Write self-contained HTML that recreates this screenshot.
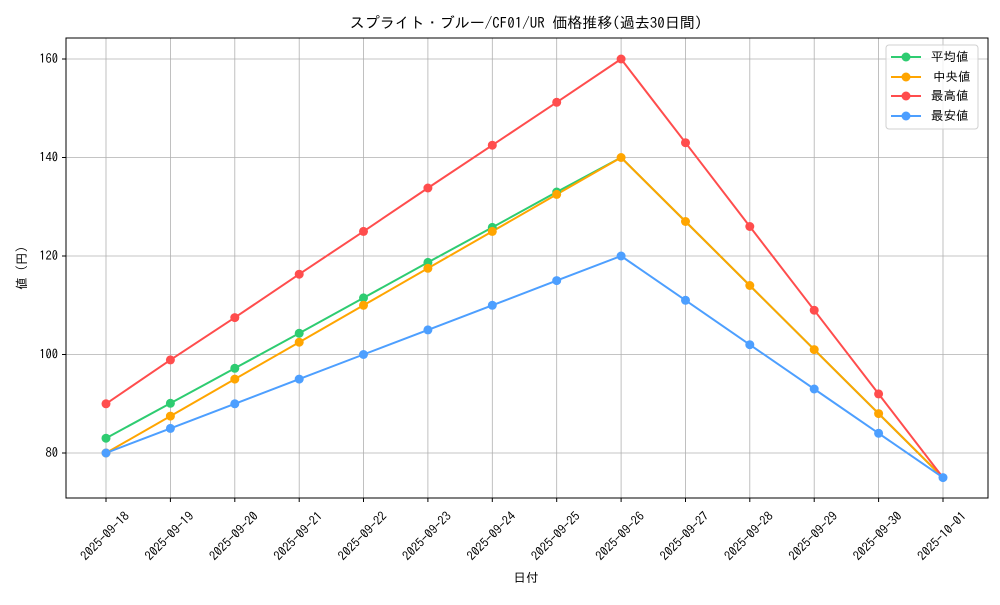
<!DOCTYPE html>
<html><head><meta charset="utf-8"><style>
body{margin:0;background:#fff}
svg text{font-family:"IPAGothic","Noto Sans CJK JP",sans-serif;fill:#000}
</style></head><body>
<svg width="1000" height="600" xmlns="http://www.w3.org/2000/svg">
<rect width="1000" height="600" fill="#fff"/>
<g stroke="#b0b0b0" stroke-width="0.8">
<line x1="106" y1="38" x2="106" y2="498"/><line x1="170.4" y1="38" x2="170.4" y2="498"/><line x1="234.8" y1="38" x2="234.8" y2="498"/><line x1="299.2" y1="38" x2="299.2" y2="498"/><line x1="363.5" y1="38" x2="363.5" y2="498"/><line x1="427.9" y1="38" x2="427.9" y2="498"/><line x1="492.3" y1="38" x2="492.3" y2="498"/><line x1="556.7" y1="38" x2="556.7" y2="498"/><line x1="621.1" y1="38" x2="621.1" y2="498"/><line x1="685.5" y1="38" x2="685.5" y2="498"/><line x1="749.8" y1="38" x2="749.8" y2="498"/><line x1="814.2" y1="38" x2="814.2" y2="498"/><line x1="878.6" y1="38" x2="878.6" y2="498"/><line x1="943" y1="38" x2="943" y2="498"/>
<line x1="66" y1="453" x2="988" y2="453"/><line x1="66" y1="354.5" x2="988" y2="354.5"/><line x1="66" y1="256" x2="988" y2="256"/><line x1="66" y1="157.5" x2="988" y2="157.5"/><line x1="66" y1="59" x2="988" y2="59"/>
</g>
<g fill="none" stroke-width="2">
<polyline stroke="#2ecc71" points="106,438.2 170.4,403.3 234.8,368.3 299.2,333.3 363.5,297.9 427.9,262.4 492.3,227.4 556.7,192 621.1,157.5 685.5,221.5 749.8,285.5 814.2,349.6 878.6,413.6 943,477.6"/>
<polyline stroke="#ffa500" points="106,453 170.4,416.1 234.8,379.1 299.2,342.2 363.5,305.3 427.9,268.3 492.3,231.4 556.7,194.4 621.1,157.5 685.5,221.5 749.8,285.5 814.2,349.6 878.6,413.6 943,477.6"/>
<polyline stroke="#ff4d4d" points="106,403.8 170.4,359.9 234.8,317.6 299.2,274.2 363.5,231.4 427.9,188 492.3,145.2 556.7,102.3 621.1,59 685.5,142.7 749.8,226.5 814.2,310.2 878.6,393.9 943,477.6"/>
<polyline stroke="#4d9fff" points="106,453 170.4,428.4 234.8,403.8 299.2,379.1 363.5,354.5 427.9,329.9 492.3,305.3 556.7,280.6 621.1,256 685.5,300.3 749.8,344.7 814.2,389 878.6,433.3 943,477.6"/>
</g>
<g fill="#2ecc71"><circle cx="106" cy="438.2" r="4.5"/><circle cx="170.4" cy="403.3" r="4.5"/><circle cx="234.8" cy="368.3" r="4.5"/><circle cx="299.2" cy="333.3" r="4.5"/><circle cx="363.5" cy="297.9" r="4.5"/><circle cx="427.9" cy="262.4" r="4.5"/><circle cx="492.3" cy="227.4" r="4.5"/><circle cx="556.7" cy="192" r="4.5"/></g>
<g fill="#ffa500"><circle cx="106" cy="453" r="4.5"/><circle cx="170.4" cy="416.1" r="4.5"/><circle cx="234.8" cy="379.1" r="4.5"/><circle cx="299.2" cy="342.2" r="4.5"/><circle cx="363.5" cy="305.3" r="4.5"/><circle cx="427.9" cy="268.3" r="4.5"/><circle cx="492.3" cy="231.4" r="4.5"/><circle cx="556.7" cy="194.4" r="4.5"/><circle cx="621.1" cy="157.5" r="4.5"/><circle cx="685.5" cy="221.5" r="4.5"/><circle cx="749.8" cy="285.5" r="4.5"/><circle cx="814.2" cy="349.6" r="4.5"/><circle cx="878.6" cy="413.6" r="4.5"/></g>
<g fill="#ff4d4d"><circle cx="106" cy="403.8" r="4.5"/><circle cx="170.4" cy="359.9" r="4.5"/><circle cx="234.8" cy="317.6" r="4.5"/><circle cx="299.2" cy="274.2" r="4.5"/><circle cx="363.5" cy="231.4" r="4.5"/><circle cx="427.9" cy="188" r="4.5"/><circle cx="492.3" cy="145.2" r="4.5"/><circle cx="556.7" cy="102.3" r="4.5"/><circle cx="621.1" cy="59" r="4.5"/><circle cx="685.5" cy="142.7" r="4.5"/><circle cx="749.8" cy="226.5" r="4.5"/><circle cx="814.2" cy="310.2" r="4.5"/><circle cx="878.6" cy="393.9" r="4.5"/></g>
<g fill="#4d9fff"><circle cx="106" cy="453" r="4.5"/><circle cx="170.4" cy="428.4" r="4.5"/><circle cx="234.8" cy="403.8" r="4.5"/><circle cx="299.2" cy="379.1" r="4.5"/><circle cx="363.5" cy="354.5" r="4.5"/><circle cx="427.9" cy="329.9" r="4.5"/><circle cx="492.3" cy="305.3" r="4.5"/><circle cx="556.7" cy="280.6" r="4.5"/><circle cx="621.1" cy="256" r="4.5"/><circle cx="685.5" cy="300.3" r="4.5"/><circle cx="749.8" cy="344.7" r="4.5"/><circle cx="814.2" cy="389" r="4.5"/><circle cx="878.6" cy="433.3" r="4.5"/><circle cx="943" cy="477.6" r="4.5"/></g>
<rect x="66" y="38" width="922" height="460" fill="none" stroke="#000" stroke-width="1"/>
<g stroke="#000"><line x1="62" y1="453" x2="66" y2="453"/><line x1="62" y1="354.5" x2="66" y2="354.5"/><line x1="62" y1="256" x2="66" y2="256"/><line x1="62" y1="157.5" x2="66" y2="157.5"/><line x1="62" y1="59" x2="66" y2="59"/></g>
<g font-size="12.5" text-anchor="end"><text x="58" y="457">80</text><text x="58" y="358.5">100</text><text x="58" y="260">120</text><text x="58" y="161.5">140</text><text x="58" y="63">160</text></g>
<g stroke="#000">
<line x1="106" y1="498" x2="106" y2="502"/><line x1="170.4" y1="498" x2="170.4" y2="502"/><line x1="234.8" y1="498" x2="234.8" y2="502"/><line x1="299.2" y1="498" x2="299.2" y2="502"/><line x1="363.5" y1="498" x2="363.5" y2="502"/><line x1="427.9" y1="498" x2="427.9" y2="502"/><line x1="492.3" y1="498" x2="492.3" y2="502"/><line x1="556.7" y1="498" x2="556.7" y2="502"/><line x1="621.1" y1="498" x2="621.1" y2="502"/><line x1="685.5" y1="498" x2="685.5" y2="502"/><line x1="749.8" y1="498" x2="749.8" y2="502"/><line x1="814.2" y1="498" x2="814.2" y2="502"/><line x1="878.6" y1="498" x2="878.6" y2="502"/><line x1="943" y1="498" x2="943" y2="502"/></g>
<g font-size="12.5" text-anchor="middle">
<text transform="translate(108,539) rotate(-45)">2025-09-18</text>
<text transform="translate(172.4,539) rotate(-45)">2025-09-19</text>
<text transform="translate(236.8,539) rotate(-45)">2025-09-20</text>
<text transform="translate(301.2,539) rotate(-45)">2025-09-21</text>
<text transform="translate(365.5,539) rotate(-45)">2025-09-22</text>
<text transform="translate(429.9,539) rotate(-45)">2025-09-23</text>
<text transform="translate(494.3,539) rotate(-45)">2025-09-24</text>
<text transform="translate(558.7,539) rotate(-45)">2025-09-25</text>
<text transform="translate(623.1,539) rotate(-45)">2025-09-26</text>
<text transform="translate(687.5,539) rotate(-45)">2025-09-27</text>
<text transform="translate(751.8,539) rotate(-45)">2025-09-28</text>
<text transform="translate(816.2,539) rotate(-45)">2025-09-29</text>
<text transform="translate(880.6,539) rotate(-45)">2025-09-30</text>
<text transform="translate(945,539) rotate(-45)">2025-10-01</text>
</g>
<text x="526" y="582" font-size="12.5" text-anchor="middle">日付</text>
<text transform="translate(26,268) rotate(-90)" font-size="12.5" text-anchor="middle">値 (円)</text>
<text x="526" y="28" font-size="15" text-anchor="middle">スプライト・ブルー/CF01/UR 価格推移(過去30日間)</text>
<rect x="886" y="45" width="92" height="84" rx="3" fill="#fff" fill-opacity="0.8" stroke="#d0d0d0"/>
<g stroke-width="2">
<line x1="891" y1="57" x2="921" y2="57" stroke="#2ecc71"/><circle cx="906" cy="57" r="4.5" fill="#2ecc71"/>
<line x1="891" y1="77" x2="921" y2="77" stroke="#ffa500"/><circle cx="906" cy="77" r="4.5" fill="#ffa500"/>
<line x1="891" y1="96" x2="921" y2="96" stroke="#ff4d4d"/><circle cx="906" cy="96" r="4.5" fill="#ff4d4d"/>
<line x1="891" y1="116" x2="921" y2="116" stroke="#4d9fff"/><circle cx="906" cy="116" r="4.5" fill="#4d9fff"/>
</g>
<g font-size="12.5"><text x="931" y="61">平均値</text><text x="933" y="81">中央値</text><text x="931" y="100">最高値</text><text x="931" y="120">最安値</text></g>
</svg>
</body></html>
